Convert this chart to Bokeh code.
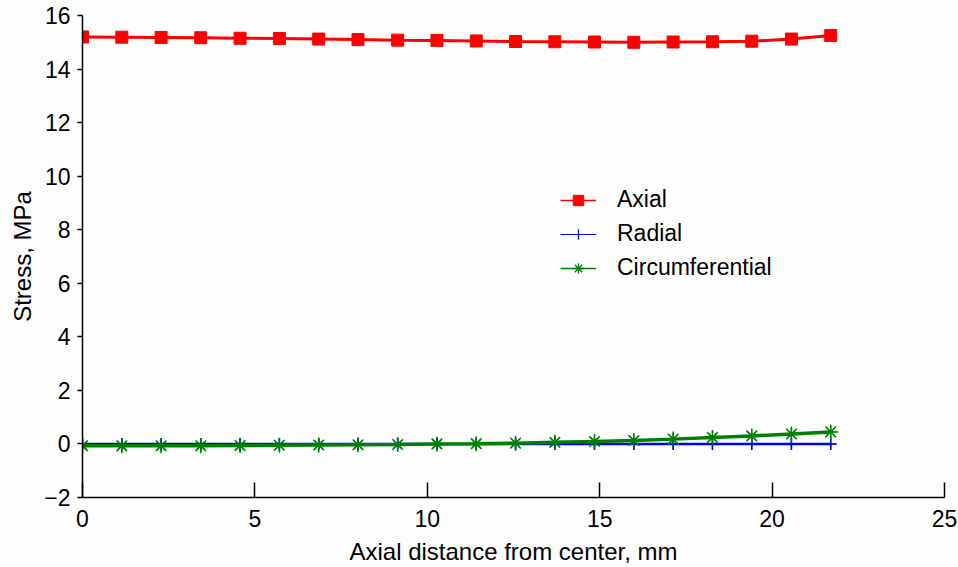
from bokeh.plotting import figure
from bokeh.models import Range1d, Legend, LegendItem, FixedTicker
from bokeh.embed import file_html
from bokeh.resources import INLINE

x_mm = [0, 1.14, 2.28, 3.43, 4.57, 5.71, 6.85, 7.99, 9.14, 10.28,
        11.42, 12.56, 13.7, 14.85, 15.99, 17.13, 18.27, 19.41, 20.56, 21.7]
axial = [15.2, 15.19, 15.18, 15.17, 15.15, 15.14, 15.12, 15.1, 15.08, 15.07,
         15.05, 15.03, 15.02, 15.01, 15.0, 15.01, 15.02, 15.04, 15.12, 15.25]
radial = [0.0] * 20
circumferential = [-0.07, -0.07, -0.07, -0.07, -0.06, -0.05, -0.04, -0.03, -0.02, 0.0,
                   0.01, 0.03, 0.06, 0.09, 0.13, 0.18, 0.24, 0.3, 0.37, 0.45]
x_ticks = [0, 5, 10, 15, 20, 25]
y_ticks = [-2, 0, 2, 4, 6, 8, 10, 12, 14, 16]

FONT = "Liberation Sans"

p = figure(width=958, height=567, output_backend="svg", toolbar_location=None,
           x_range=Range1d(0, 25), y_range=Range1d(-2, 16),
           min_border_left=82, min_border_right=14, min_border_top=15, min_border_bottom=70)
p.background_fill_color = "#fdfdfd"
p.border_fill_color = "#fdfdfd"
p.outline_line_color = None
p.xgrid.visible = False
p.ygrid.visible = False

# axes
p.xaxis.ticker = FixedTicker(ticks=x_ticks)
p.yaxis.ticker = FixedTicker(ticks=y_ticks)
p.yaxis.major_label_overrides = {-2: "\u22122"}
for ax in (p.xaxis[0], p.yaxis[0]):
    ax.axis_line_color = "black"
    ax.axis_line_width = 1.5
    ax.major_tick_line_color = "black"
    ax.major_tick_line_width = 1.5
    ax.minor_tick_line_color = None
    ax.major_label_text_font = FONT
    ax.major_label_text_font_size = "23px"
    ax.major_label_text_color = "black"
    ax.axis_label_text_font = FONT
    ax.axis_label_text_font_size = "24px"
    ax.axis_label_text_font_style = "normal"
    ax.axis_label_text_color = "black"
p.xaxis.major_tick_in = 15
p.xaxis.major_tick_out = 0
p.xaxis.major_label_standoff = 12
p.xaxis.axis_label = "Axial distance from center, mm"
p.xaxis.axis_label_standoff = 8
p.yaxis.major_tick_in = 0
p.yaxis.major_tick_out = 5
p.yaxis.major_label_standoff = 7
p.yaxis.axis_label = "Stress, MPa"
p.yaxis.axis_label_standoff = 5

# thin legend proxies drawn underneath the visible series
k_ax_l = p.line(x_mm, axial, line_color="#ff0000", line_width=1.5)
k_ax_m = p.scatter(x_mm, axial, marker="square", size=9, fill_color="#ff0000", line_color="#ff0000")
k_rad_l = p.line(x_mm, radial, line_color="#0000ff", line_width=1.2)
k_rad_m = p.scatter(x_mm, radial, marker="cross", size=11, line_color="#0000ff", line_width=1.2)
k_cir_l = p.line(x_mm, circumferential, line_color="#008000", line_width=1.5)
k_cir_m = p.scatter(x_mm, circumferential, marker="asterisk", size=12, line_color="#008000", line_width=1.3)

# series
p.line(x_mm, axial, line_color="#ff0000", line_width=3)
p.scatter(x_mm, axial, marker="square", size=12, fill_color="#ff0000", line_color="#ff0000")
p.line(x_mm, radial, line_color="#0000ff", line_width=2.5)
p.scatter(x_mm, radial, marker="cross", size=12, line_color="#0000ff", line_width=1.5)
p.line(x_mm, circumferential, line_color="#008000", line_width=3.5)
p.scatter(x_mm, circumferential, marker="asterisk", size=15, line_color="#008000", line_width=1.5)

legend = Legend(items=[
    LegendItem(label="Axial", renderers=[k_ax_l, k_ax_m]),
    LegendItem(label="Radial", renderers=[k_rad_l, k_rad_m]),
    LegendItem(label="Circumferential", renderers=[k_cir_l, k_cir_m]),
], location=(478, 216))
legend.background_fill_alpha = 0
legend.border_line_color = None
legend.padding = 0
legend.margin = 0
legend.spacing = 7
legend.label_text_font = FONT
legend.label_text_font_size = "23px"
legend.label_text_color = "black"
legend.glyph_width = 36
legend.glyph_height = 26
legend.label_height = 26
legend.label_standoff = 21
p.add_layout(legend, "center")

open("out.html", "w").write(file_html(p, INLINE))
